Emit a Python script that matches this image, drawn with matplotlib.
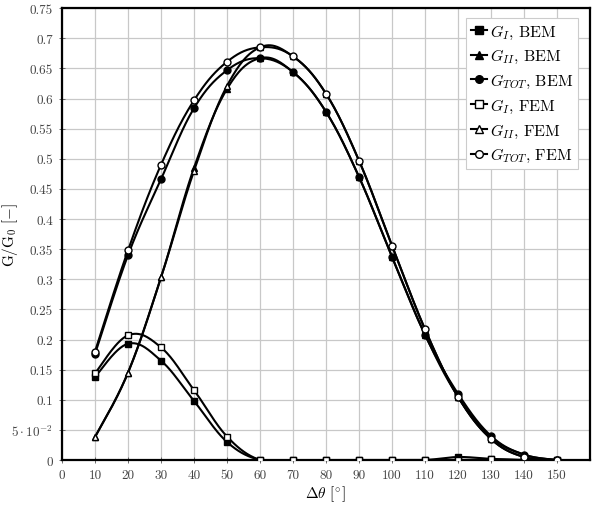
import numpy as np
import matplotlib
matplotlib.use("Agg")
import matplotlib.pyplot as plt
from matplotlib.lines import Line2D

plt.rcParams['font.family'] = ['cmr10', 'DejaVu Serif']
plt.rcParams['mathtext.fontset'] = 'cm'
plt.rcParams['axes.unicode_minus'] = False
plt.rcParams['axes.formatter.use_mathtext'] = True

theta = [10, 20, 30, 40, 50, 60, 70, 80, 90, 100, 110, 120, 130, 140, 150]

gI_bem = [0.138, 0.193, 0.165, 0.098, 0.030, 0.0, 0.0, 0.0, 0.0, 0.0, 0.0, 0.005, 0.002, 0.0, 0.0]
gII_bem = [0.038, 0.145, 0.303, 0.485, 0.616, 0.667, 0.644, 0.578, 0.470, 0.337, 0.208, 0.105, 0.038, 0.009, 0.0]
gtot_bem = [0.176, 0.340, 0.466, 0.584, 0.647, 0.667, 0.644, 0.578, 0.470, 0.337, 0.208, 0.110, 0.040, 0.009, 0.0]
gI_fem = [0.144, 0.207, 0.187, 0.116, 0.039, 0.0, 0.0, 0.0, 0.0, 0.0, 0.0, 0.0, 0.001, 0.0, 0.0]
gII_fem = [0.038, 0.145, 0.303, 0.480, 0.621, 0.685, 0.670, 0.608, 0.497, 0.356, 0.217, 0.105, 0.035, 0.005, 0.0]
gtot_fem = [0.180, 0.348, 0.490, 0.597, 0.661, 0.685, 0.670, 0.608, 0.497, 0.356, 0.217, 0.105, 0.035, 0.005, 0.0]

series = [
    (gI_bem, 's', 'black', r'$G_I$, BEM'),
    (gII_bem, '^', 'black', r'$G_{II}$, BEM'),
    (gtot_bem, 'o', 'black', r'$G_{TOT}$, BEM'),
    (gI_fem, 's', 'white', r'$G_I$, FEM'),
    (gII_fem, '^', 'white', r'$G_{II}$, FEM'),
    (gtot_fem, 'o', 'white', r'$G_{TOT}$, FEM'),
]

xticks = [0, 10, 20, 30, 40, 50, 60, 70, 80, 90, 100, 110, 120, 130, 140, 150]
yticks = [0, 0.05, 0.1, 0.15, 0.2, 0.25, 0.3, 0.35, 0.4, 0.45, 0.5, 0.55, 0.6, 0.65, 0.7, 0.75]
ytick_labels = ['0', r'$5\cdot10^{-2}$', '0.1', '0.15', '0.2', '0.25', '0.3', '0.35', '0.4',
                '0.45', '0.5', '0.55', '0.6', '0.65', '0.7', '0.75']


def smooth(x, y, tension=0.55, n=30):
    x = np.asarray(x, float)
    y = np.asarray(y, float)
    xs, ys = [x[0]], [y[0]]
    k = tension / 3.0
    for i in range(len(x) - 1):
        p0 = np.array([x[max(i - 1, 0)], y[max(i - 1, 0)]])
        p1 = np.array([x[i], y[i]])
        p2 = np.array([x[i + 1], y[i + 1]])
        p3 = np.array([x[min(i + 2, len(x) - 1)], y[min(i + 2, len(x) - 1)]])
        c1 = p1 + k * (p2 - p0)
        c2 = p2 - k * (p3 - p1)
        t = np.linspace(0, 1, n)[1:]
        b = ((1 - t) ** 3)[:, None] * p1 + (3 * (1 - t) ** 2 * t)[:, None] * c1 + \
            (3 * (1 - t) * t ** 2)[:, None] * c2 + (t ** 3)[:, None] * p2
        xs.extend(b[:, 0])
        ys.extend(b[:, 1])
    return np.array(xs), np.array(ys)


fig = plt.figure(figsize=(5.96, 5.10), dpi=100)
ax = fig.add_axes([0.104, 0.096, 0.886, 0.886])

handles = []
for vals, mk, fc, lab in series:
    sx, sy = smooth(theta, vals)
    ax.plot(sx, sy, color='black', lw=1.5, zorder=3)
    ax.plot(theta, vals, linestyle='none', marker=mk, markersize=5 if mk != 's' else 4.6,
            markerfacecolor=fc, markeredgecolor='black', markeredgewidth=1.0, zorder=4)
    handles.append(Line2D([0], [0], color='black', lw=1.5, marker=mk, markersize=5.5,
                          markerfacecolor=fc, markeredgecolor='black', markeredgewidth=1.0, label=lab))

ax.set_xlim(0, 160)
ax.set_ylim(0, 0.75)
ax.set_xticks(xticks)
ax.set_xticklabels([str(v) for v in xticks])
ax.set_yticks(yticks)
ax.set_yticklabels(ytick_labels)
ax.grid(True, color='#c8c8c8', lw=0.9)
ax.set_axisbelow(True)
ax.tick_params(direction='inout', length=5, width=0.6, labelsize=9.5, pad=4, colors='#555555',
               labelcolor='#444444')
for s in ax.spines.values():
    s.set_linewidth(1.6)

ax.set_xlabel(r'$\Delta\theta$ [$^{\circ}$]', fontsize=11, va='top')
ax.xaxis.set_label_coords((325 - 62) / 528, -(484 - 461) / 452)
ax.set_ylabel(r'G/G$_0$ [$-$]', fontsize=11, va='center')
ax.yaxis.set_label_coords((10 - 62) / 528, 0.5)

leg = ax.legend(handles=handles, loc='upper right', bbox_to_anchor=(0.977, 0.979),
                borderaxespad=0, fancybox=False, framealpha=1, edgecolor='#cccccc',
                fontsize=11.5, handlelength=1.0, handletextpad=0.2, labelspacing=0.42,
                borderpad=0.3)
leg.get_frame().set_linewidth(0.8)

fig.savefig('out.png', dpi=100)
